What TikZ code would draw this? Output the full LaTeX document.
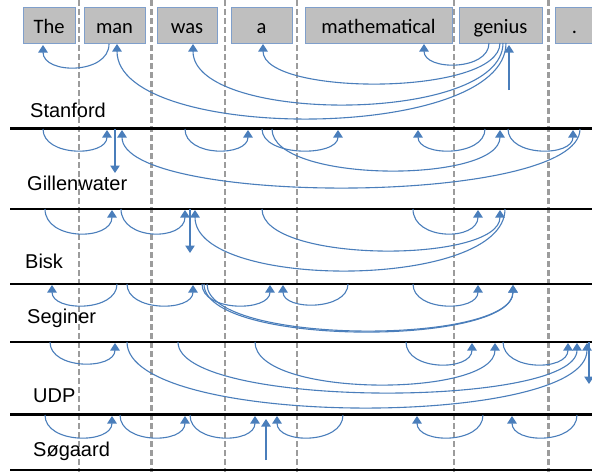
\documentclass[tikz,border=0pt]{standalone}
\usepackage{fontspec}
\newfontfamily\boxfont{Carlito}
\newfontfamily\labfont{Liberation Sans}
\usetikzlibrary{arrows.meta}
\definecolor{arcblue}{HTML}{4A7EBB}
\definecolor{boxgray}{HTML}{BFBFBF}
\definecolor{boxedge}{HTML}{7F9FCB}
\definecolor{dashgray}{HTML}{9C9C9C}
% start x, arrow x, line y, lowest y
\newcommand{\deparc}[4]{%
  \draw[deplink] (#1,#3) .. controls (#1,{#3+(#4-#3)*4/3}) and (#2,{#3+(#4-#3)*4/3}) .. (#2,{#3+1});}
\tikzset{
  deplink/.style={draw=arcblue, line width=1.1pt, -{Triangle[width=9.5pt,length=7.5pt]}},
  wordbox/.style={draw=boxedge, fill=boxgray, line width=1pt, minimum height=36pt, inner sep=0pt,
    text height=18pt, text depth=2pt, font=\boxfont\fontsize{20.5}{24}\selectfont},
  rowlabel/.style={anchor=base west, inner sep=0pt, font=\labfont\fontsize{20}{24}\selectfont},
  sepline/.style={draw=dashgray, line width=2.6pt, dash pattern=on 6pt off 3pt},
  rowline/.style={draw=black, line width=2.2pt}
}
\begin{document}
\begin{tikzpicture}[x=1pt,y=-1pt]
\clip (0,0) rectangle (592,472);
\fill[white] (0,0) rectangle (592,472);
% column separators
\foreach \xx in {79,151.5,225,297,454,548.5} \draw[sepline] (\xx,0) -- (\xx,472);
% word boxes
\node[wordbox, minimum width=52pt] (w1) at (49,25) {The};
\node[wordbox, minimum width=61pt] (w2) at (114.5,25) {man};
\node[wordbox, minimum width=60pt] (w3) at (187,25) {was};
\node[wordbox, minimum width=61pt] (w4) at (261.5,25) {a};
\node[wordbox, minimum width=147pt] (w5) at (378.5,25) {mathematical};
\node[wordbox, minimum width=83pt] (w6) at (500.5,25) {genius};
\node[wordbox, minimum width=39pt] (w7) at (574.5,25) {.};
% row separators
\foreach \yy in {128.5,209,284,342,414.5,470} \draw[rowline] (10,\yy) -- (592,\yy);
% row labels
\node[rowlabel] (l1) at (30,117) {Stanford};
\node[rowlabel] (l2) at (27,190) {Gillenwater};
\node[rowlabel] (l3) at (25,268) {Bisk};
\node[rowlabel] (l4) at (27,323) {Seginer};
\node[rowlabel] (l5) at (33,402) {UDP};
\node[rowlabel] (l6) at (33,456) {Søgaard};
% Stanford
\deparc{109}{43}{44}{67}
\deparc{506}{117}{43}{118}
\deparc{503}{193}{43}{104}
\deparc{500}{263}{43}{83}
\deparc{489}{424}{43}{64}
\coordinate (r1a) at (509,90); \coordinate (r1b) at (509,45);
\draw[deplink] (r1a) -- (r1b);
% Gillenwater
\deparc{43}{107}{129}{150}
\deparc{580}{122}{129}{187}
\deparc{185}{248}{129}{150}
\deparc{262}{338}{129}{150}
\deparc{272}{500}{129}{170}
\deparc{485}{418}{129}{150}
\deparc{508}{573}{129}{150}
\coordinate (r2a) at (115,129); \coordinate (r2b) at (115,173);
\draw[deplink] (r2a) -- (r2b);
% Bisk
\deparc{45}{112}{209}{233}
\deparc{121}{185}{209}{233}
\deparc{505}{195}{209}{270}
\deparc{262}{500}{209}{250}
\deparc{413}{478}{209}{233}
\coordinate (r3a) at (190,209); \coordinate (r3b) at (190,253);
\draw[deplink] (r3a) -- (r3b);
% Seginer
\deparc{117}{52}{284}{305}
\deparc{127}{193}{284}{305}
\deparc{202}{270}{284}{305}
\deparc{348}{283}{284}{304}
\deparc{413}{478}{284}{305}
\deparc{204}{513}{284}{331}
\deparc{207}{513}{284}{330}
% UDP
\deparc{50}{115}{342}{363}
\deparc{127}{587}{342}{407}
\deparc{178}{577}{342}{392}
\deparc{255}{495}{342}{384}
\deparc{406}{472}{342}{364}
\deparc{503}{568}{342}{364}
\coordinate (r5a) at (589,342); \coordinate (r5b) at (589,384);
\draw[deplink] (r5a) -- (r5b);
% Sogaard
\deparc{45}{112}{415}{437}
\deparc{120}{185}{415}{437}
\deparc{190}{255}{415}{437}
\deparc{343}{277}{415}{437}
\deparc{483}{417}{415}{437}
\deparc{577}{512}{415}{437}
\coordinate (r6a) at (266,460); \coordinate (r6b) at (266,419);
\draw[deplink] (r6a) -- (r6b);
\end{tikzpicture}
\end{document}
